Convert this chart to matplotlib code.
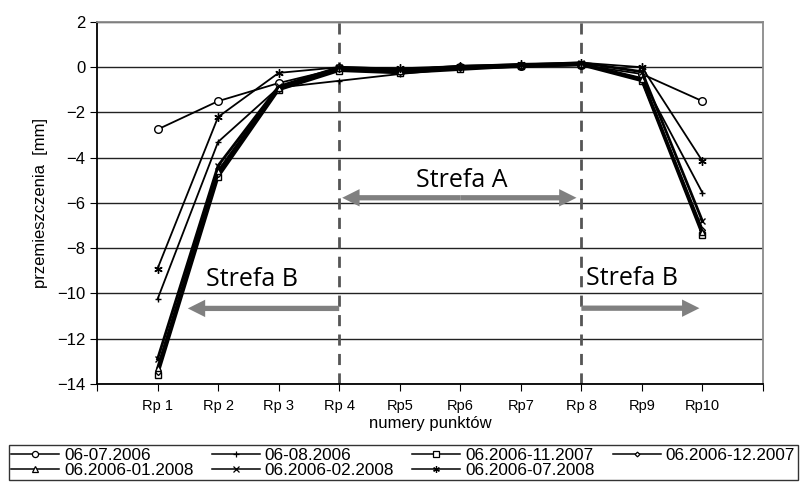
import matplotlib.pyplot as plt
from matplotlib.lines import Line2D
import numpy as np

# -----------------------
# Data
# -----------------------

points = ["Rp 1", "Rp 2", "Rp 3", "Rp 4", "Rp5", "Rp6", "Rp7", "Rp 8", "Rp9", "Rp10"]

labels = [
    "06-07.2006",
    "06-08.2006",
    "06.2006-11.2007",
    "06.2006-12.2007",
    "06.2006-01.2008",
    "06.2006-02.2008",
    "06.2006-07.2008",
]

s_0607 = [-2.75, -1.5, -0.7, -0.05, -0.2, 0.0, 0.05, 0.1, -0.3, -1.5]
s_0608 = [-10.25, -3.3, -0.9, -0.6, -0.3, -0.05, 0.0, 0.1, -0.5, -5.55]
s_1107 = [-13.6, -4.85, -1.0, -0.15, -0.25, -0.1, 0.05, 0.1, -0.6, -7.4]
s_1207 = [-13.45, -4.7, -0.95, -0.1, -0.2, -0.05, 0.05, 0.15, -0.55, -7.2]
s_0108 = [-13.3, -4.6, -0.9, -0.05, -0.15, 0.05, 0.1, 0.15, -0.5, -7.3]
s_0208 = [-12.9, -4.35, -0.85, 0.0, -0.1, 0.0, 0.1, 0.2, -0.2, -6.8]
s_0708 = [-8.9, -2.2, -0.25, 0.0, -0.05, 0.05, 0.15, 0.2, 0.0, -4.15]

series = [s_0607, s_0608, s_1107, s_1207, s_0108, s_0208, s_0708]

# -----------------------
# Styles
# -----------------------

markers = ["o", "+", "s", "D", "^", "x", (6, 2, 0)]
msizes = [5.5, 5, 5, 3, 5, 5, 6]
lwidths = [1.3, 1.3, 2.0, 2.0, 2.0, 2.0, 1.3]

plt.rcParams["font.family"] = ["Liberation Sans", "DejaVu Sans"]

fig = plt.figure(figsize=(8.11, 4.83), dpi=100)
ax = fig.add_axes([0.1196, 0.205, 0.8212, 0.7495])

x = np.arange(1, len(points) + 1)

handles = []
for vals, lab, m, ms, lw in zip(series, labels, markers, msizes, lwidths):
    ax.plot(
        x, vals, color="black", lw=lw, marker=m, ms=ms,
        mfc="white", mec="black", mew=1.0, zorder=3,
    )
    handles.append(Line2D([], [], color="black", lw=1.1, marker=m, ms=ms * 0.8,
                          mfc="white", mec="black", mew=0.9))

ax.set_xlim(0, 11)
ax.set_ylim(-14, 2)
ax.set_yticks(np.arange(-14, 3, 2))
ax.set_xticks(np.arange(0, 12))
ax.set_xticklabels([""] + points + [""], fontsize=10.5)
ax.tick_params(axis="y", labelsize=12, length=5, direction="out")
ax.tick_params(axis="x", length=5, direction="out", pad=6)

ax.set_axisbelow(True)
ax.yaxis.grid(True, color="#222222", lw=1.0)
ax.spines["top"].set_color("#8a8a8a")
ax.spines["right"].set_color("#8a8a8a")
ax.spines["left"].set_color("black")
ax.spines["bottom"].set_color("black")
for s in ax.spines.values():
    s.set_linewidth(1.3)

ax.set_xlabel("numery punktów", fontsize=12, labelpad=2)
ax.set_ylabel("przemieszczenia  [mm]", fontsize=12, labelpad=6)

# zone boundaries
for xb in (4, 8):
    ax.axvline(xb, color="#555555", lw=2, ls=(0, (4, 3)), zorder=2)

# zone arrows and labels
grey = "#808080"
astyle = "simple,head_length=1.25,head_width=1.25,tail_width=0.38"


def arrow(x0, x1, y):
    ax.annotate(
        "", xy=(x1, y), xytext=(x0, y),
        arrowprops=dict(arrowstyle=astyle, color=grey, lw=0,
                        shrinkA=0, shrinkB=0, mutation_scale=10),
        zorder=2,
    )


arrow(6.0, 4.05, -5.77)
arrow(6.0, 7.92, -5.77)
arrow(4.0, 1.5, -10.66)
arrow(8.0, 9.95, -10.65)

zone_font = ["Open Sans", "DejaVu Sans"]
ax.text(6.02, -5.0, "Strefa A", fontsize=18, family=zone_font, ha="center", va="center")
ax.text(2.56, -9.4, "Strefa B", fontsize=18, family=zone_font, ha="center", va="center")
ax.text(8.08, -9.35, "Strefa B", fontsize=18, family=zone_font, ha="left", va="center")

# legend, row-major order as in the reference
order = [0, 4, 1, 5, 2, 6, 3]
leg = fig.legend(
    [handles[i] for i in order], [labels[i] for i in order],
    ncol=4, loc="upper left", bbox_to_anchor=(0.011, 0.078),
    fontsize=12.3, frameon=True, fancybox=False, edgecolor="black",
    handlelength=2.8, handletextpad=0.3, columnspacing=1.05,
    labelspacing=0.0, borderpad=0.15, borderaxespad=0.0,
)
leg.get_frame().set_linewidth(1.0)

fig.savefig("out.png", dpi=100)
